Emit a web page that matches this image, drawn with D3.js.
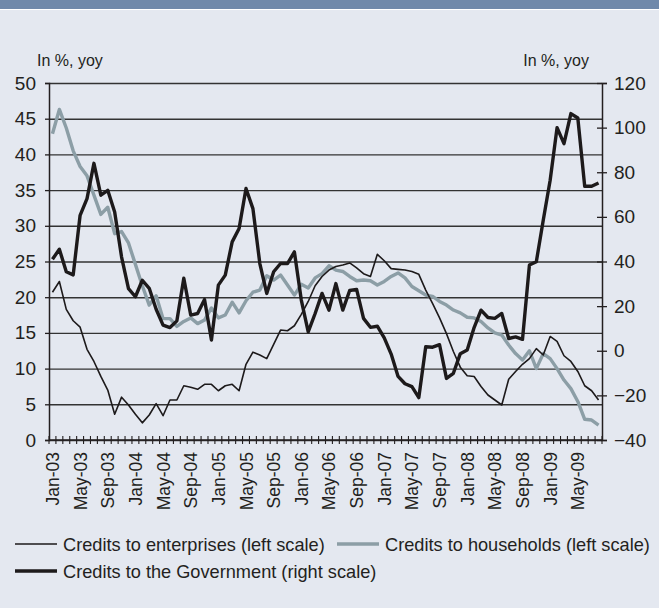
<!DOCTYPE html>
<html>
<head>
<meta charset="utf-8">
<script src="https://cdn.jsdelivr.net/npm/d3@7"></script>
<style>
  body { margin: 0; background: #e4e8f0; }
  svg { display: block; }
  .txt { font-family: "Liberation Sans", Arial, sans-serif; fill: #231f20; }
</style>
</head>
<body>
<div id="main"></div>
<script>
// monthly, Jan-03 .. Aug-09
const months = d3.timeMonth.range(new Date(2003, 0, 1), new Date(2009, 8, 1));

const tickLabels = ["Jan-03", "May-03", "Sep-03", "Jan-04", "May-04", "Sep-04", "Jan-05", "May-05",
  "Sep-05", "Jan-06", "May-06", "Sep-06", "Jan-07", "May-07", "Sep-07", "Jan-08", "May-08",
  "Sep-08", "Jan-09", "May-09"];

const leftTicks = [0, 5, 10, 15, 20, 25, 30, 35, 40, 45, 50];
const rightTicks = [-40, -20, 0, 20, 40, 60, 80, 100, 120];

// credits to enterprises (left scale)
const enterprises = [
  20.7, 22.2, 18.3, 16.7, 15.8, 12.7, 11.0, 8.9, 7.0, 3.6,
  6.0, 4.9, 3.6, 2.4, 3.5, 5.1, 3.4, 5.6, 5.6, 7.6,
  7.4, 7.1, 7.8, 7.8, 6.9, 7.6, 7.8, 6.9, 10.6, 12.3,
  11.9, 11.4, 13.4, 15.4, 15.3, 16.0, 17.6, 19.4, 21.6, 22.9,
  23.8, 24.3, 24.5, 24.8, 24.1, 23.3, 22.9, 26.0, 25.1, 24.0,
  23.9, 23.8, 23.6, 23.2, 21.0, 19.1, 17.1, 14.9, 12.4, 10.2,
  9.0, 8.9, 7.5, 6.3, 5.6, 4.9, 8.5, 9.6, 10.6, 11.4,
  12.8, 11.9, 14.5, 13.8, 11.8, 11.0, 9.6, 7.6, 6.9, 5.6
];

// credits to households (left scale)
const households = [
  42.9, 46.3, 43.7, 40.5, 38.3, 37.0, 34.3, 31.6, 32.6, 28.9,
  29.2, 27.6, 24.6, 21.6, 18.9, 20.2, 17.0, 17.0, 15.9, 16.6,
  17.1, 16.3, 16.8, 18.5, 17.1, 17.5, 19.3, 17.8, 19.5, 20.7,
  21.0, 23.0, 22.4, 23.1, 21.7, 20.3, 21.8, 21.3, 22.7, 23.3,
  24.4, 23.8, 23.6, 22.9, 22.3, 22.4, 22.3, 21.7, 22.2, 22.9,
  23.4, 22.7, 21.5, 20.9, 20.3, 20.1, 19.4, 18.9, 18.2, 17.8,
  17.2, 17.1, 16.6, 15.7, 15.0, 14.7, 13.3, 12.1, 11.2, 12.5,
  10.0, 12.1, 11.4, 10.0, 8.4, 7.2, 5.4, 2.9, 2.8, 2.1
];

// credits to the government (right scale)
const government = [
  41.0, 45.5, 35.4, 34.0, 60.7, 68.2, 84.0, 69.7, 71.9, 62.2,
  42.0, 27.8, 24.2, 31.6, 28.0, 18.6, 11.5, 10.4, 13.4, 32.5,
  16.0, 16.7, 23.0, 4.8, 29.4, 33.9, 48.8, 54.8, 72.7, 63.7,
  39.1, 25.7, 35.4, 39.1, 39.1, 44.3, 22.7, 8.5, 16.7, 25.7,
  18.2, 30.1, 18.2, 27.0, 27.5, 14.5, 10.5, 11.0, 5.8, -1.5,
  -11.5, -14.8, -16.1, -21.0, 1.8, 1.6, 2.7, -12.4, -10.1, -1.3,
  0.3, 10.4, 18.2, 14.9, 14.5, 16.7, 5.5, 6.2, 5.1, 38.4,
  39.9, 58.5, 76.4, 100.0, 92.8, 106.3, 104.3, 73.7, 73.7, 75.2
];

const width = 659;
const height = 608;
const margin = { top: 83, right: 57, bottom: 168, left: 49 };
const innerW = width - margin.left - margin.right;
const innerH = height - margin.top - margin.bottom;
const ink = "#231f20";

const fmt = d3.timeFormat("%b-%y");

const svg = d3.select("#main").append("svg")
  .attr("width", width)
  .attr("height", height);

// header strip
svg.append("rect").attr("x", 0).attr("y", 0).attr("width", width).attr("height", 9).attr("fill", "#7089aa");
svg.append("rect").attr("x", 0).attr("y", 9).attr("width", width).attr("height", 1).attr("fill", "#ffffff");

const x = d3.scaleBand().domain(months).range([0, innerW]).padding(0);
const yL = d3.scaleLinear().domain([0, 50]).range([innerH, 0]);
const yR = d3.scaleLinear().domain([-40, 120]).range([innerH, 0]);
const cx = d => x(d) + x.bandwidth() / 2;

const g = svg.append("g").attr("transform", `translate(${margin.left},${margin.top})`);

// gridlines
const grid = g.append("g").call(d3.axisLeft(yL).tickValues(leftTicks).tickSize(-innerW).tickFormat(""));
grid.select(".domain").remove();
grid.selectAll("line").attr("stroke", "#333").attr("stroke-width", 1.4);

// left axis
const ax = g.append("g").call(d3.axisLeft(yL).tickValues(leftTicks).tickSize(4).tickPadding(9));
ax.select(".domain").attr("stroke", ink).attr("stroke-width", 1.5);
ax.selectAll("line").attr("stroke", ink).attr("stroke-width", 1.3);
ax.selectAll("text").attr("class", "txt").style("font-size", "19px");

// right axis
const ar = g.append("g").attr("transform", `translate(${innerW},0)`)
  .call(d3.axisRight(yR).tickValues(rightTicks).tickSize(5).tickPadding(7));
ar.select(".domain").attr("stroke", ink).attr("stroke-width", 1.5);
ar.selectAll(".tick line").attr("x1", -5).attr("stroke", ink).attr("stroke-width", 1.3);
ar.selectAll("text").attr("class", "txt").style("font-size", "19px");

// bottom axis: ticks at month boundaries, labels every 4 months
const xb = g.append("g").attr("transform", `translate(0,${innerH})`);
xb.append("line").attr("x1", 0).attr("x2", innerW).attr("stroke", ink).attr("stroke-width", 1.5);
xb.selectAll("line.mt").data(months.concat([null])).enter().append("line")
  .attr("class", "mt")
  .attr("x1", (d, i) => i * x.bandwidth()).attr("x2", (d, i) => i * x.bandwidth())
  .attr("y1", -4).attr("y2", 4)
  .attr("stroke", ink).attr("stroke-width", 1.1);
xb.selectAll("text").data(months.filter(d => tickLabels.includes(fmt(d)))).enter().append("text")
  .attr("class", "txt")
  .attr("transform", d => `translate(${cx(d) + 6.5},12) rotate(-90)`)
  .attr("text-anchor", "end")
  .style("font-size", "17.5px")
  .text(d => fmt(d));

// series
const lineL = d3.line().x((d, i) => cx(months[i])).y(d => yL(d));
const lineR = d3.line().x((d, i) => cx(months[i])).y(d => yR(d));

g.append("path").datum(households).attr("d", lineL)
  .attr("fill", "none").attr("stroke", "#8c9ea6").attr("stroke-width", 3.4).attr("stroke-linejoin", "round");
g.append("path").datum(enterprises).attr("d", lineL)
  .attr("fill", "none").attr("stroke", "#1d1a1b").attr("stroke-width", 1.6).attr("stroke-linejoin", "round");
g.append("path").datum(government).attr("d", lineR)
  .attr("fill", "none").attr("stroke", "#1d1a1b").attr("stroke-width", 3.4).attr("stroke-linejoin", "round");

// axis titles
svg.append("text").attr("class", "txt").attr("x", 37).attr("y", 66).style("font-size", "16px").text("In %, yoy");
svg.append("text").attr("class", "txt").attr("x", 589).attr("y", 66).attr("text-anchor", "end").style("font-size", "16px").text("In %, yoy");

// legend
const legend = [
  { label: "Credits to enterprises (left scale)", color: "#1d1a1b", w: 1.6, x: 15, y: 544 },
  { label: "Credits to households (left scale)", color: "#8c9ea6", w: 3.4, x: 337, y: 544 },
  { label: "Credits to the Government (right scale)", color: "#1d1a1b", w: 3.4, x: 15, y: 571 }
];
const lg = svg.append("g").selectAll("g").data(legend).enter().append("g");
lg.append("line").attr("x1", d => d.x).attr("x2", d => d.x + 42).attr("y1", d => d.y).attr("y2", d => d.y)
  .attr("stroke", d => d.color).attr("stroke-width", d => d.w);
lg.append("text").attr("class", "txt").attr("x", d => d.x + 48).attr("y", d => d.y + 6.5)
  .style("font-size", "18.2px").text(d => d.label);
</script>
</body>
</html>
